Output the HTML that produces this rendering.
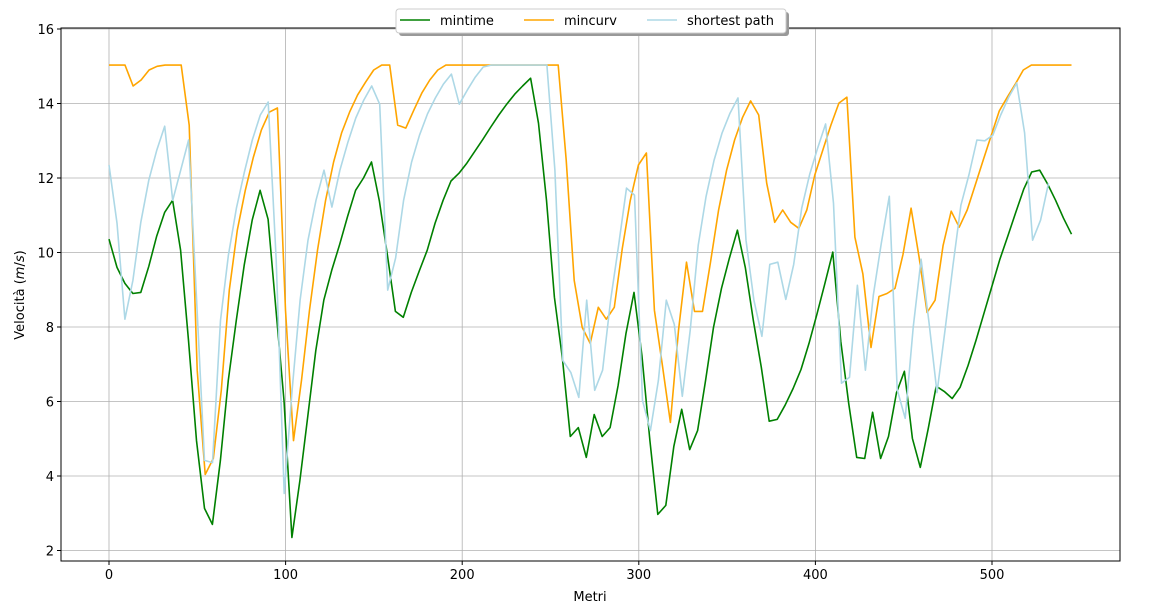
<!DOCTYPE html>
<html><head><meta charset="utf-8"><style>
body{margin:0;background:#fff;font-family:"Liberation Sans","DejaVu Sans",sans-serif}
svg text{font-family:"DejaVu Sans","Liberation Sans",sans-serif;font-size:13px;fill:#000}
</style></head><body>
<svg id="chart" width="1169" height="608" xmlns="http://www.w3.org/2000/svg"></svg>
<script>
const xTicks=[0,100,200,300,400,500];
const yTicks=[2,4,6,8,10,12,14,16];
const seriesNames=["mintime","mincurv","shortest path"];
const seriesColors=["green","orange","lightblue"];
const seriesEnd=[545,545,532];
const mintime=[10.36,9.60,9.17,8.90,8.93,9.63,10.44,11.08,11.40,10.06,7.64,4.95,3.13,2.70,4.42,6.57,8.18,9.66,10.87,11.67,10.89,8.45,6.03,2.35,3.88,5.63,7.37,8.72,9.52,10.22,10.97,11.67,12.0,12.43,11.38,9.93,8.42,8.26,8.93,9.50,10.06,10.79,11.40,11.92,12.13,12.40,12.72,13.04,13.37,13.69,13.98,14.25,14.47,14.68,13.47,11.40,8.80,7.16,5.06,5.30,4.50,5.65,5.06,5.30,6.43,7.83,8.93,7.24,4.95,2.97,3.21,4.79,5.79,4.71,5.22,6.57,7.99,9.04,9.85,10.60,9.60,8.18,6.92,5.47,5.52,5.90,6.35,6.86,7.56,8.34,9.17,10.01,7.61,5.95,4.50,4.47,5.71,4.47,5.06,6.24,6.81,5.01,4.23,5.28,6.41,6.27,6.08,6.38,6.97,7.64,8.37,9.09,9.82,10.44,11.08,11.70,12.16,12.21,11.84,11.40,10.92,10.49];
const mincurv=[15.03,15.03,15.03,14.47,14.63,14.90,15.0,15.03,15.03,15.03,13.42,6.84,4.04,4.47,6.30,8.99,10.60,11.67,12.56,13.29,13.77,13.88,8.45,4.95,6.57,8.45,10.06,11.40,12.43,13.21,13.77,14.23,14.58,14.90,15.03,15.03,13.42,13.34,13.82,14.28,14.63,14.90,15.03,15.03,15.03,15.03,15.03,15.03,15.03,15.03,15.03,15.03,15.03,15.03,15.03,15.03,15.03,12.48,9.25,7.99,7.56,8.53,8.21,8.53,10.11,11.40,12.35,12.67,8.45,6.97,5.44,7.91,9.74,8.42,8.42,9.74,11.14,12.21,13.02,13.63,14.07,13.69,11.86,10.81,11.14,10.81,10.65,11.14,12.08,12.75,13.42,14.01,14.17,10.41,9.42,7.45,8.82,8.90,9.04,9.95,11.19,9.87,8.39,8.72,10.19,11.11,10.68,11.14,11.81,12.48,13.15,13.80,14.17,14.52,14.90,15.03,15.03,15.03,15.03,15.03,15.03];
const shortest=[12.35,10.79,8.21,9.25,10.81,11.94,12.75,13.39,11.40,12.21,13.02,8.72,4.42,4.36,8.18,9.93,11.19,12.16,13.02,13.69,14.04,9.79,3.53,6.30,8.72,10.33,11.40,12.21,11.22,12.21,12.96,13.61,14.09,14.47,13.98,8.99,9.85,11.40,12.43,13.15,13.72,14.15,14.52,14.79,13.98,14.36,14.71,14.98,15.03,15.03,15.03,15.03,15.03,15.03,15.03,15.03,12.21,7.10,6.78,6.11,8.72,6.30,6.84,8.72,10.19,11.73,11.54,6.03,5.22,6.57,8.72,8.07,6.14,7.91,10.19,11.51,12.48,13.21,13.74,14.15,10.33,8.72,7.75,9.68,9.74,8.74,9.68,11.19,12.10,12.80,13.45,11.32,6.49,6.65,9.12,6.84,8.85,10.25,11.51,6.32,5.55,7.99,9.82,8.10,6.24,7.91,9.66,11.27,12.08,13.02,13.00,13.15,13.69,14.17,14.55,13.21,10.33,10.87,11.86];
const seriesData=[mintime,mincurv,shortest];

const NS="http://www.w3.org/2000/svg";
const svg=document.getElementById("chart");
const L=61,R=1120,T=28,B=561;
const xs=v=>109+v*1.766;
const ys=v=>550.5-(v-2)*37.25;
function mk(tag,attrs,parent){const e=document.createElementNS(NS,tag);for(const k in attrs)e.setAttribute(k,attrs[k]);(parent||svg).appendChild(e);return e;}

const grid=mk("g",{});


xTicks.forEach(t=>{
  const l=mk("line",{x1:xs(t),x2:xs(t),y1:T,y2:B,stroke:"#b0b0b0","stroke-width":0.8},grid);
  
  
  const tk=mk("line",{x1:xs(t),x2:xs(t),y1:B,y2:B+4,stroke:"#000"});
  
  
  const tx=mk("text",{x:xs(t),y:B+18,"text-anchor":"middle"});tx.textContent=t;
  
  
});
yTicks.forEach(t=>{
  const l=mk("line",{x1:L,x2:R,y1:ys(t),y2:ys(t),stroke:"#b0b0b0","stroke-width":0.8},grid);
  
  
  const tk=mk("line",{x1:L-4,x2:L,y1:ys(t),y2:ys(t),stroke:"#000"});
  
  
  const tx=mk("text",{x:L-7,y:ys(t)+5,"text-anchor":"end"});tx.textContent=t;
  
  
});
seriesData.forEach((d,si)=>{
  const step=seriesEnd[si]/(d.length-1);
  const pts=d.map((v,i)=>xs(i*step).toFixed(1)+","+ys(v).toFixed(1)).join(" ");
  const p=mk("polyline",{points:pts,fill:"none",stroke:seriesColors[si],"stroke-width":1.6,"stroke-linejoin":"round"});
  
  
});
const frame=mk("rect",{x:L,y:T,width:R-L,height:B-T,fill:"none",stroke:"#000","stroke-width":1});


const xl=mk("text",{x:590,y:601,"text-anchor":"middle"});xl.textContent="Metri";


const yl=mk("text",{x:24,y:295,"text-anchor":"middle",transform:"rotate(-90 24 295)"});
yl.innerHTML='Velocità (<tspan font-style="italic">m</tspan>/<tspan font-style="italic">s</tspan>)';


// legend
const lg=mk("g",{});


mk("rect",{x:399,y:12,width:390,height:24,rx:3,fill:"#999"},lg);
mk("rect",{x:396,y:9,width:390,height:24,rx:3,fill:"#fff",stroke:"#ccc"},lg);
const lx=[400,524,647],tw=[[440,"mintime"],[564,"mincurv"],[687,"shortest path"]];
seriesNames.forEach((n,i)=>{
  const e=mk("g",{},lg);
  
  
  mk("line",{x1:lx[i],x2:lx[i]+30,y1:20,y2:20,stroke:seriesColors[i],"stroke-width":1.6},e);
  const t=mk("text",{x:tw[i][0],y:25},e);t.textContent=n;
});
</script>
</body></html>
